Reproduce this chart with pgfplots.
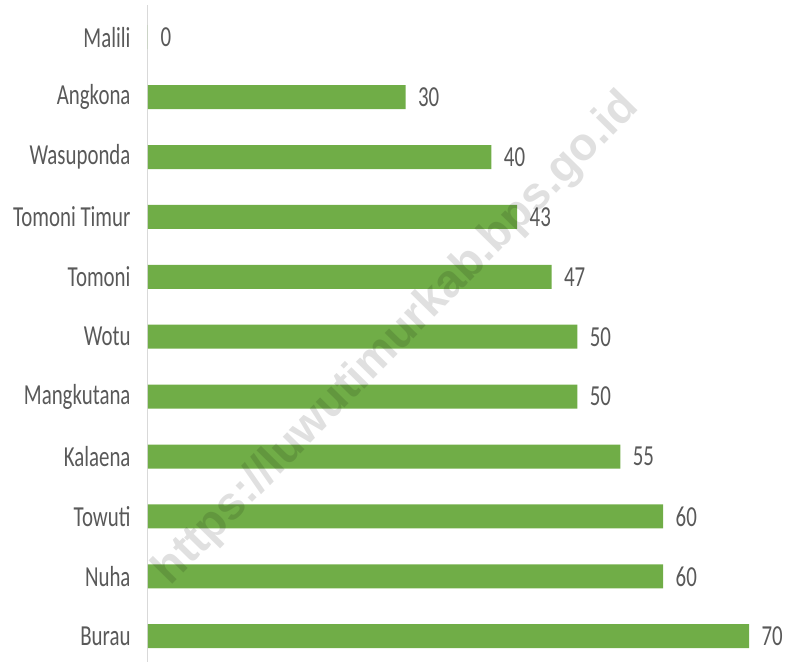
\documentclass[border=0pt]{standalone}
\usepackage{fontspec}
\setmainfont{Carlito}[FakeStretch=0.72]
\newfontfamily\wmfont{Liberation Sans}[BoldFont={Liberation Sans Bold}]
\usepackage{pgfplots}
\pgfplotsset{compat=1.18}
\definecolor{bargreen}{HTML}{70AD47}
\definecolor{txtgray}{HTML}{595959}
\definecolor{axgray}{HTML}{D9D9D9}
\begin{document}
\begin{tikzpicture}
\path[use as bounding box] (-148bp,0) rectangle (641bp,662bp);
\begin{axis}[
  at={(0,0)}, anchor=south west,
  scale only axis,
  width=639.7bp, height=656.5bp,
  xbar, bar width=24bp,
  xmin=0, xmax=74.5,
  ymin=-0.43, ymax=10.53,
  axis x line=none,
  axis y line*=left,
  y axis line style={axgray, line width=1pt, -},
  ytick={0,...,10},
  yticklabels={Burau,Nuha,Towuti,Kalaena,Mangkutana,Wotu,Tomoni,Tomoni Timur,Wasuponda,Angkona,Malili},
  major tick length=0pt,
  yticklabel style={font=\fontsize{29bp}{30bp}\selectfont, text=txtgray, xshift=-14bp},
  nodes near coords,
  nodes near coords style={font=\fontsize{29bp}{30bp}\selectfont, text=txtgray, anchor=west, xshift=9bp},
  /pgf/number format/assume math mode=true,
  point meta=explicit symbolic,
]
\addplot[fill=bargreen, draw=none] coordinates {
 (70,0) [70] (60,1) [60] (60,2) [60] (55,3) [55] (50,4) [50] (50,5) [50]
 (47,6) [47] (43,7) [43] (40,8) [40] (30,9) [30] (0,10) [0]
};
\end{axis}
\node[rotate=45.5, font=\wmfont\bfseries\fontsize{46bp}{46bp}\selectfont, text=black, opacity=0.12] at (249bp,323bp) {https://luwutimurkab.bps.go.id};
\end{tikzpicture}
\end{document}
